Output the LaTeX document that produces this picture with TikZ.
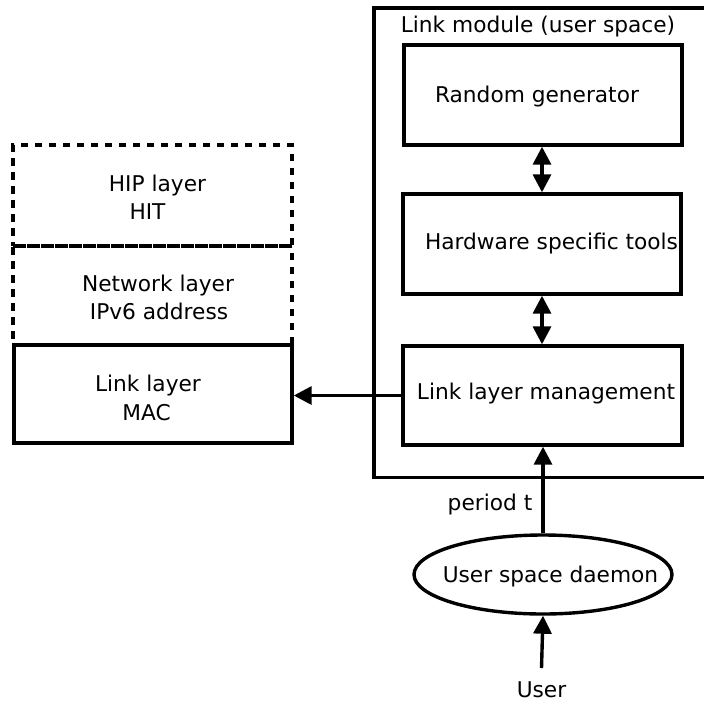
\documentclass[tikz,border=0pt]{standalone}
\usepackage{fontspec}
\setmainfont{DejaVu Sans}
\usetikzlibrary{arrows.meta,shapes.geometric}

\tikzset{
  box/.style={draw, line width=3.4pt, rectangle, inner sep=0pt},
  dashbox/.style={draw, line width=3.4pt, rectangle, inner sep=0pt,
                  dash pattern=on 7.5pt off 6.5pt},
  lbl/.style={anchor=base, inner sep=0pt,
              font=\fontsize{21.7}{26}\selectfont},
  conn/.style={line width=3.4pt, -{Triangle[length=18pt,width=18pt]}},
  dconn/.style={line width=3.4pt,
                {Triangle[length=18pt,width=18pt]}-{Triangle[length=18pt,width=18pt]}},
}

\begin{document}
\begin{tikzpicture}[x=1pt, y=-1pt]
\useasboundingbox (0,0) rectangle (704,702);

% Link module frame (open on the right)
\draw[line width=3.4pt] (704,8) -- (374,8) -- (374,477.5) -- (704,477.5);
\node[lbl] (modlbl) at (538,32) {Link module (user space)};

% Boxes inside the link module
\node[box, minimum width=278pt, minimum height=100pt] (rg)  at (543,95) {};
\node[box, minimum width=278pt, minimum height=100pt] (hst) at (542,244) {};
\node[box, minimum width=279pt, minimum height=99pt]  (llm) at (542.5,395.5) {};
\node[lbl] (rgt)  at (537,102)   {Random generator};
\node[lbl] (hstt) at (551.5,249) {Hardware specific tools};
\node[lbl] (llmt) at (546,399)   {Link layer management};

% Protocol stack
\node[dashbox, minimum width=279pt, minimum height=101pt] (hip) at (152.5,195.5) {};
\node[dashbox, minimum width=279pt, minimum height=99pt]  (net) at (152.5,295.5) {};
\node[box, minimum width=278pt, minimum height=98pt] (link) at (153,394) {};
\node[lbl] (hip1) at (157.5,191) {HIP layer};
\node[lbl] (hip2) at (147.5,219) {HIT};
\node[lbl] (net1) at (158,291)   {Network layer};
\node[lbl] (net2) at (159,319)   {IPv6 address};
\node[lbl] (lnk1) at (148,391)   {Link layer};
\node[lbl] (lnk2) at (146.5,420) {MAC};

% Daemon and user
\node[draw, line width=3.4pt, ellipse, inner sep=0pt,
      minimum width=258pt, minimum height=79pt] (dmn) at (543,574.5) {};
\node[lbl] (dmnt) at (550.5,582) {User space daemon};
\node[lbl] (user) at (541.5,697) {User};
\node[lbl] (per)  at (490,510)   {period t};
\coordinate (ufoot) at (541.5,668);

% Connectors
\draw[dconn] (rg.south -| hst.north) -- (hst.north);
\draw[dconn] (hst.south) -- (hst.south |- llm.north);
\draw[conn] (llm.west) -- (llm.west -| link.east);
\draw[conn] (dmn.north) -- (dmn.north |- llm.south);
\draw[conn] (ufoot) -- (dmn.south);
\end{tikzpicture}
\end{document}
